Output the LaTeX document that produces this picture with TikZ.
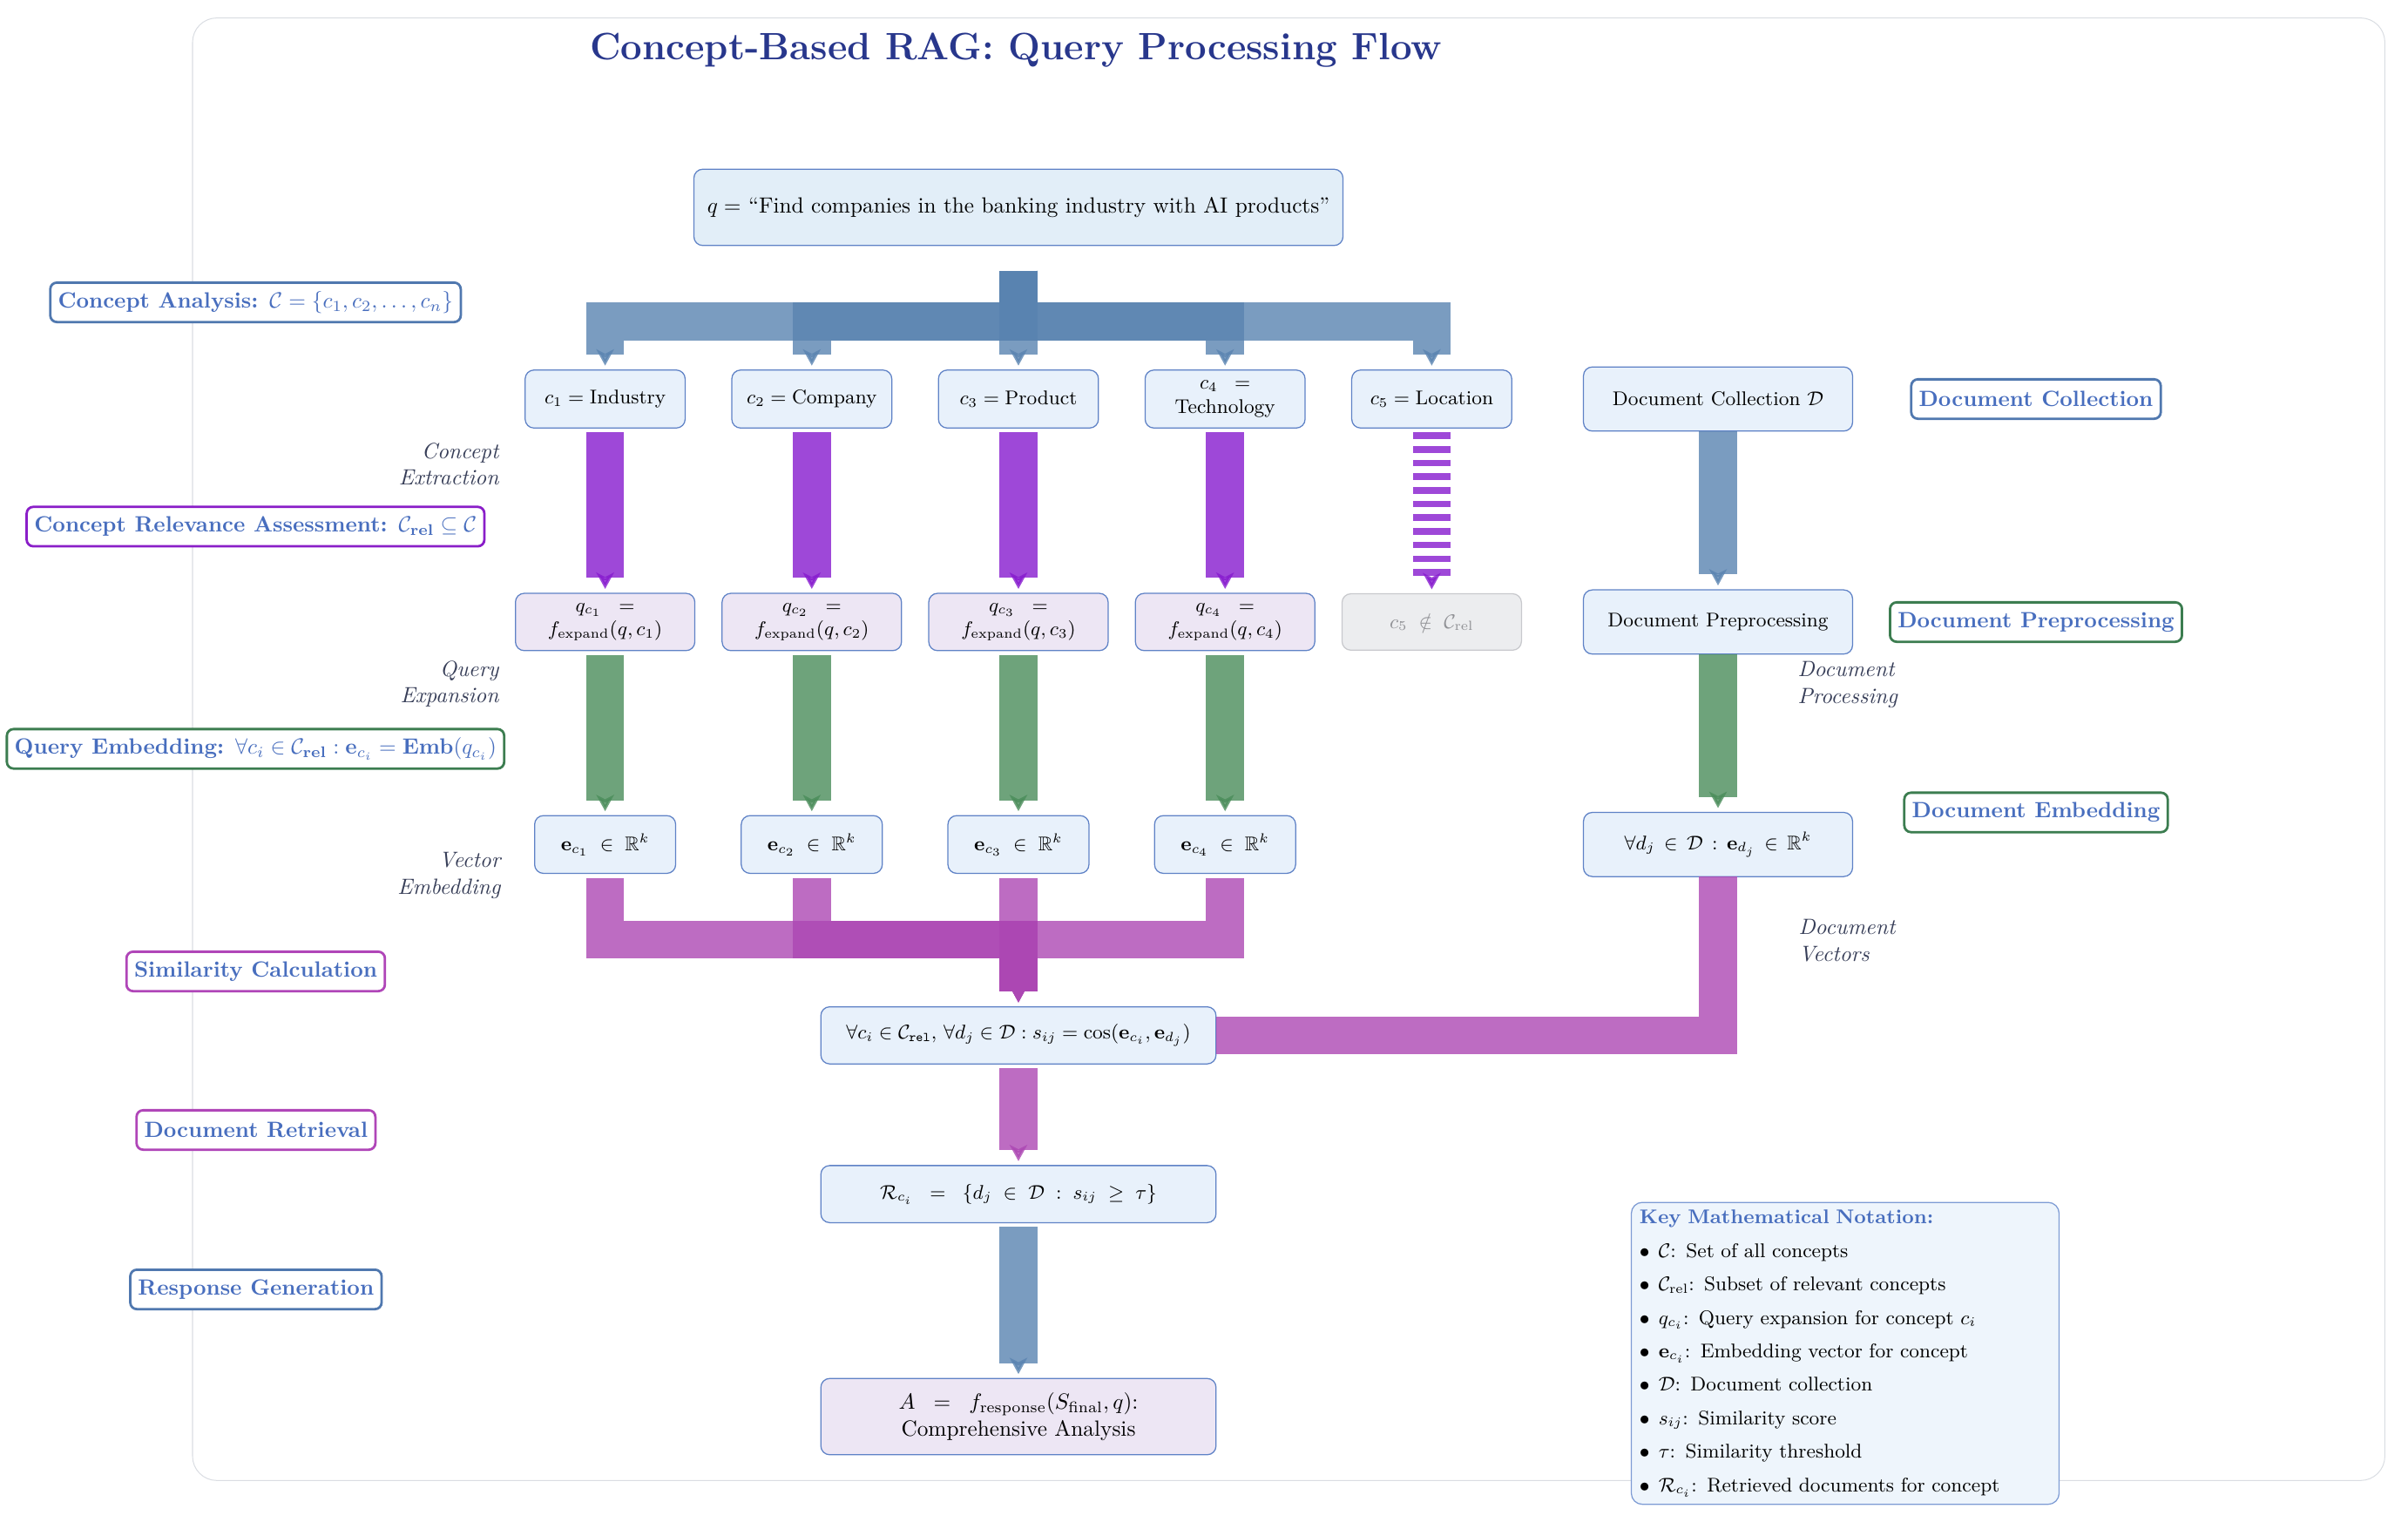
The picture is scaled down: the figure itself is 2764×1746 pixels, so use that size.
\documentclass[tikz,border=0pt]{standalone}
\usepackage{amsmath,amssymb}
\usetikzlibrary{arrows.meta}
\definecolor{boxfill}{RGB}{232,241,251}
\definecolor{qfill}{RGB}{226,238,248}
\definecolor{boxline}{RGB}{95,130,198}
\definecolor{expfill}{RGB}{237,230,244}
\definecolor{grayfill}{RGB}{236,237,239}
\definecolor{grayline}{RGB}{200,201,205}
\definecolor{graytext}{RGB}{145,146,150}
\definecolor{keyfill}{RGB}{238,245,252}
\definecolor{keyline}{RGB}{125,155,212}
\definecolor{labtext}{RGB}{72,110,190}
\definecolor{labblue}{RGB}{80,120,175}
\definecolor{labpurple}{RGB}{138,30,200}
\definecolor{labgreen}{RGB}{60,125,80}
\definecolor{labmag}{RGB}{176,70,184}
\definecolor{titlecol}{RGB}{40,55,140}
\definecolor{italcol}{RGB}{55,62,88}
\definecolor{framecol}{RGB}{218,221,226}
\definecolor{flowblue}{RGB}{89,131,176}
\definecolor{flowpurple}{RGB}{134,26,206}
\definecolor{flowgreen}{RGB}{74,140,90}
\definecolor{flowmag}{RGB}{172,71,179}
\tikzset{
  nbox/.style={draw=boxline, fill=boxfill, line width=0.5pt, rounded corners=4pt,
    align=center, inner sep=3pt, outer sep=2pt},
  qbox/.style={nbox, fill=qfill, minimum width=294.5pt, minimum height=34.6pt},
  cbox/.style={nbox, minimum width=72.6pt, minimum height=26.3pt, font=\small},
  xbox/.style={nbox, fill=expfill, minimum width=81.4pt, minimum height=26pt, font=\small},
  gbox/.style={nbox, draw=grayline, fill=grayfill, text=graytext, minimum width=81.4pt, minimum height=25.6pt, font=\small},
  ebox/.style={nbox, minimum width=64pt, minimum height=26.2pt, font=\small},
  dbox/.style={nbox, minimum width=122.1pt, minimum height=29.1pt, font=\small},
  wbox/.style={nbox, minimum width=179.3pt, minimum height=25.9pt},
  keybox/.style={draw=keyline, fill=keyfill, line width=0.5pt, rounded corners=5pt,
    align=left, inner xsep=3.75pt, inner ysep=3pt, text width=186.6pt, minimum height=137pt, font=\small},
  lab/.style={fill=white, line width=1.1pt, rounded corners=3pt, text=labtext,
    font=\bfseries, inner xsep=3.5pt, inner ysep=2pt, minimum height=17.9pt},
  itl/.style={font=\itshape, text=italcol, inner sep=0pt},
  flow/.style={line width=17.2pt, opacity=0.8,
    -{Stealth[length=7.4pt,width=8pt,inset=2pt]}},
  fblue/.style={flow, draw=flowblue},
  fpurple/.style={flow, draw=flowpurple},
  fgreen/.style={flow, draw=flowgreen},
  fmag/.style={flow, draw=flowmag},
  docflow/.style={shorten <=-2pt},
}
\begin{document}
\begin{tikzpicture}[x=0.3953pt,y=-0.3953pt]
\useasboundingbox (0,0) rectangle (2764,1746);
% frame
\draw[framecol, line width=0.4pt, rounded corners=11pt] (221,20.6) rectangle (2737.4,1699.3);
% title
\node[anchor=base, font=\LARGE\bfseries, text=titlecol, inner sep=0pt] (title) at (1166,68)
  {Concept-Based RAG: Query Processing Flow};

% query
\node[qbox] (q) at (1169,238) {$q =$ ``Find companies in the banking industry with AI products''};

% concepts
\node[cbox] (c1) at (694.6,458) {$c_1 = \text{Industry}$};
\node[cbox] (c2) at (931.8,458) {$c_2 = \text{Company}$};
\node[cbox] (c3) at (1169,458) {$c_3 = \text{Product}$};
\node[cbox] (c4) at (1406.2,458) {$c_4\;\;=$\\Technology};
\node[cbox] (c5) at (1643.4,458) {$c_5 = \text{Location}$};
\node[dbox] (dc) at (1972,458) {Document Collection $\mathcal{D}$};

% expanded queries
\node[xbox] (x1) at (694.6,713.9) {$q_{c_1}\;\;=$\\$f_{\text{expand}}(q, c_1)$};
\node[xbox] (x2) at (931.8,713.9) {$q_{c_2}\;\;=$\\$f_{\text{expand}}(q, c_2)$};
\node[xbox] (x3) at (1169,713.9) {$q_{c_3}\;\;=$\\$f_{\text{expand}}(q, c_3)$};
\node[xbox] (x4) at (1406.2,713.9) {$q_{c_4}\;\;=$\\$f_{\text{expand}}(q, c_4)$};
\node[gbox] (x5) at (1643.4,713.9) {$c_5 \;\notin\; \mathcal{C}_{\text{rel}}$};
\node[dbox] (dp) at (1972,713.9) {Document Preprocessing};

% embeddings
\node[ebox] (e1) at (694.6,969.3) {$\mathbf{e}_{c_1}\;\in\;\mathbb{R}^k$};
\node[ebox] (e2) at (931.8,969.3) {$\mathbf{e}_{c_2}\;\in\;\mathbb{R}^k$};
\node[ebox] (e3) at (1169,969.3) {$\mathbf{e}_{c_3}\;\in\;\mathbb{R}^k$};
\node[ebox] (e4) at (1406.2,969.3) {$\mathbf{e}_{c_4}\;\in\;\mathbb{R}^k$};
\node[dbox] (de) at (1972,969.3) {$\forall d_j \,\in\, \mathcal{D} \,:\, \mathbf{e}_{d_j} \,\in\, \mathbb{R}^k$};

% similarity, retrieval, response
\node[wbox, font=\small] (sim) at (1169,1188.4)
  {$\forall c_i \in \mathcal{C}_{\mathtt{rel}},\, \forall d_j \in \mathcal{D} : s_{ij} = \cos(\mathbf{e}_{c_i}, \mathbf{e}_{d_j})$};
\node[wbox, font=\small] (ret) at (1169,1370.6)
  {$\mathcal{R}_{c_i} \;\;=\;\; \{d_j \;\in\; \mathcal{D} \;:\; s_{ij} \;\geq\; \tau\}$};
\node[wbox, fill=expfill, minimum height=34.6pt] (resp) at (1169,1626)
  {$A \;\;=\;\; f_{\text{response}}(S_{\text{final}}, q)$:\\Comprehensive Analysis};

% key notation
\node[keybox] (key) at (2118,1553.4) {%
  \textcolor{labtext}{\textbf{Key Mathematical Notation:}}\\[4.2pt]
  $\bullet$\hspace{4pt}$\mathcal{C}$:\enspace Set of all concepts\\[4.2pt]
  $\bullet$\hspace{4pt}$\mathcal{C}_{\text{rel}}$:\enspace Subset of relevant concepts\\[4.2pt]
  $\bullet$\hspace{4pt}$q_{c_i}$:\enspace Query expansion for concept $c_i$\\[4.2pt]
  $\bullet$\hspace{4pt}$\mathbf{e}_{c_i}$:\enspace Embedding vector for concept\\[4.2pt]
  $\bullet$\hspace{4pt}$\mathcal{D}$:\enspace Document collection\\[4.2pt]
  $\bullet$\hspace{4pt}$s_{ij}$:\enspace Similarity score\\[4.2pt]
  $\bullet$\hspace{4pt}$\tau$:\enspace Similarity threshold\\[4.2pt]
  $\bullet$\hspace{4pt}$\mathcal{R}_{c_i}$:\enspace Retrieved documents for concept};

% stage labels left
\node[lab, draw=labblue] (lca) at (293.3,347) {Concept Analysis: $\mathcal{C} = \{c_1, c_2, \ldots, c_n\}$};
\node[lab, draw=labpurple] (lcr) at (293.3,604.4) {Concept Relevance Assessment: $\mathcal{C}_{\text{rel}} \subseteq \mathcal{C}$};
\node[lab, draw=labgreen] (lqe) at (293.3,859.5) {Query Embedding: $\forall c_i \in \mathcal{C}_{\text{rel}} : \mathbf{e}_{c_i} = \text{Emb}(q_{c_i})$};
\node[lab, draw=labmag] (lsc) at (293.5,1115) {Similarity Calculation};
\node[lab, draw=labmag] (ldr) at (293.8,1297) {Document Retrieval};
\node[lab, draw=labblue] (lrg) at (293.8,1480) {Response Generation};
% stage labels right
\node[lab, draw=labblue] (ldc) at (2337,458) {Document Collection};
\node[lab, draw=labgreen] (ldp) at (2337,714) {Document Preprocessing};
\node[lab, draw=labgreen] (lde) at (2337,932.5) {Document Embedding};

% italic step labels
\node[itl, anchor=east, align=right] (tce) at (573,532.6) {Concept\\Extraction};
\node[itl, anchor=east, align=right] (tqe) at (573,785) {Query\\Expansion};
\node[itl, anchor=east, align=right] (tve) at (575,1005) {Vector\\Embedding};
\node[itl, anchor=west, align=left] (tdp) at (2063,786) {Document\\Processing};
\node[itl, anchor=west, align=left] (tdv) at (2064,1079.5) {Document\\Vectors};

% query -> concepts
\draw[fblue, shorten <=9.45pt] (q.south) -- ++(0,82.1) -| (c1.north);
\draw[fblue, shorten <=9.45pt] (q.south) -- ++(0,82.1) -| (c2.north);
\draw[fblue, shorten <=9.45pt] (q.south) -- (c3.north);
\draw[fblue, shorten <=9.45pt] (q.south) -- ++(0,82.1) -| (c4.north);
\draw[fblue, shorten <=9.45pt] (q.south) -- ++(0,82.1) -| (c5.north);

% concepts -> expanded
\draw[fpurple] (c1.south) -- (x1.north);
\draw[fpurple] (c2.south) -- (x2.north);
\draw[fpurple] (c3.south) -- (x3.north);
\draw[fpurple] (c4.south) -- (x4.north);
\draw[fpurple, dash pattern=on 3pt off 3.2pt] (c5.south) -- (x5.north);

% expanded -> embeddings
\draw[fgreen] (x1.south) -- (e1.north);
\draw[fgreen] (x2.south) -- (e2.north);
\draw[fgreen] (x3.south) -- (e3.north);
\draw[fgreen] (x4.south) -- (e4.north);

% embeddings -> similarity
\draw[fmag] (e1.south) -- ++(0,71) -| (sim.north);
\draw[fmag] (e2.south) -- ++(0,71) -| (sim.north);
\draw[fmag] (e3.south) -- (sim.north);
\draw[fmag] (e4.south) -- ++(0,71) -| (sim.north);

% document pipeline
\draw[fblue, docflow] (dc.south) -- (dp.north);
\draw[fgreen, docflow] (dp.south) -- (de.north);
\draw[line width=17.2pt, opacity=0.8, draw=flowmag, docflow, shorten >=-2pt] (de.south) |- (sim.east);

% downstream
\draw[fmag] (sim.south) -- (ret.north);
\draw[fblue] (ret.south) -- (resp.north);
\end{tikzpicture}
\end{document}
